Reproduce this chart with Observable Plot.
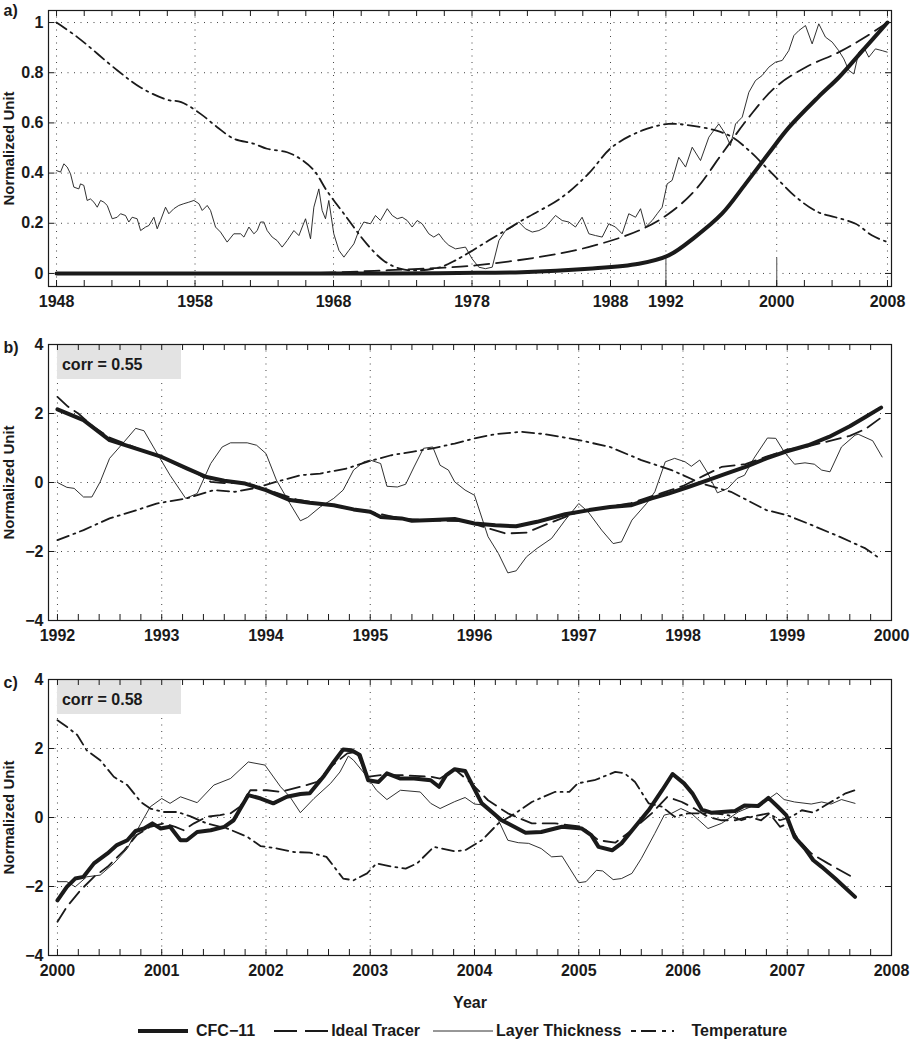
<!DOCTYPE html>
<html>
<head>
<meta charset="utf-8">
<script src="https://cdn.jsdelivr.net/npm/d3@7"></script>
<script src="https://cdn.jsdelivr.net/npm/@observablehq/plot@0.6"></script>
<style>
  body { margin: 0; background: #fff; font-family: "Liberation Sans", Arial, sans-serif; color: #1a1a1a; }
  #chart { width: 910px; }
  #chart svg { display: block; }
  .legend { display: flex; align-items: center; height: 42px; padding-left: 138px; font-weight: bold; font-size: 16px; }
  .legend svg { display: block; }
  .legend span { white-space: nowrap; }
</style>
</head>
<body>
<div id="chart"></div>
<script>
// ---- panel a: 1948-2008, [year, value]
const aCFC = [[1948,0],[1972,0],[1977,0.002],[1981.6,0.005],[1986.4,0.019],[1990.05,0.039],[1992.2,0.072],[1994.1,0.145],[1996.05,0.238],[1997.75,0.357],[1999.4,0.477],[2000.9,0.583],[2003.0,0.703],[2004.5,0.782],[2006.2,0.888],[2008,1.0]];
const aIdeal = [[1948,0],[1964,0],[1968,0.004],[1972,0.013],[1976,0.023],[1978.25,0.032],[1982.8,0.065],[1986.4,0.105],[1990.05,0.171],[1992.2,0.238],[1994.1,0.331],[1996.05,0.477],[1998.0,0.623],[1999.9,0.742],[2002.1,0.822],[2004.5,0.882],[2006.4,0.942],[2008,1.0]];
const aTemp = [[1948,1.0],[1949.5,0.942],[1952.4,0.809],[1954.1,0.74],[1956.0,0.692],[1957.0,0.683],[1958.4,0.636],[1959.6,0.583],[1960.8,0.537],[1962.25,0.517],[1963.2,0.497],[1964.65,0.483],[1965.6,0.457],[1966.6,0.41],[1967.5,0.331],[1968.75,0.238],[1970.4,0.118],[1971.6,0.052],[1972.8,0.019],[1974.0,0.012],[1975.7,0.025],[1976.8,0.052],[1979.2,0.131],[1981.6,0.211],[1984.5,0.304],[1986.4,0.397],[1988.1,0.503],[1990.3,0.57],[1992.2,0.596],[1993.7,0.59],[1995.6,0.57],[1996.8,0.543],[1998.0,0.49],[1999.7,0.397],[2001.4,0.304],[2003.0,0.244],[2004.25,0.224],[2005.7,0.198],[2006.9,0.151],[2008,0.125]];
const aThick = [[1948.0,0.41],[1948.29,0.404],[1948.53,0.437],[1948.77,0.424],[1949.01,0.397],[1949.25,0.344],[1949.61,0.337],[1949.73,0.357],[1949.97,0.351],[1950.21,0.291],[1950.45,0.297],[1950.7,0.284],[1950.94,0.264],[1951.18,0.291],[1951.42,0.284],[1951.66,0.271],[1952.02,0.218],[1952.38,0.224],[1952.62,0.238],[1952.98,0.231],[1953.22,0.205],[1953.46,0.224],[1953.82,0.218],[1954.07,0.171],[1954.43,0.185],[1954.67,0.191],[1955.03,0.224],[1955.27,0.178],[1955.51,0.211],[1955.87,0.264],[1956.11,0.238],[1956.47,0.258],[1956.83,0.271],[1957.19,0.278],[1957.55,0.284],[1957.92,0.291],[1958.28,0.278],[1958.52,0.251],[1958.88,0.271],[1959.12,0.251],[1959.48,0.185],[1959.84,0.165],[1960.32,0.125],[1960.8,0.158],[1961.29,0.158],[1961.53,0.145],[1961.89,0.185],[1962.25,0.158],[1962.49,0.171],[1962.73,0.205],[1962.97,0.205],[1963.21,0.171],[1963.57,0.145],[1963.93,0.131],[1964.29,0.105],[1964.65,0.131],[1965.14,0.171],[1965.5,0.151],[1965.74,0.185],[1965.98,0.218],[1966.34,0.138],[1966.58,0.264],[1966.94,0.337],[1967.18,0.251],[1967.42,0.218],[1967.66,0.291],[1968.02,0.158],[1968.39,0.092],[1968.75,0.065],[1969.11,0.092],[1969.47,0.118],[1969.83,0.171],[1970.19,0.205],[1970.67,0.198],[1971.03,0.231],[1971.39,0.211],[1971.88,0.258],[1972.24,0.231],[1972.6,0.218],[1972.96,0.224],[1973.32,0.211],[1973.68,0.185],[1974.04,0.211],[1974.4,0.198],[1974.88,0.158],[1975.24,0.145],[1975.61,0.158],[1975.97,0.131],[1976.33,0.112],[1976.81,0.098],[1977.53,0.105],[1978.01,0.058],[1978.49,0.025],[1978.97,0.019],[1979.46,0.025],[1979.94,0.131],[1980.42,0.171],[1980.9,0.185],[1981.38,0.205],[1981.86,0.178],[1982.35,0.165],[1982.83,0.171],[1983.31,0.185],[1984.03,0.231],[1984.51,0.211],[1984.99,0.205],[1985.47,0.185],[1985.95,0.224],[1986.44,0.158],[1986.92,0.151],[1987.4,0.145],[1987.88,0.198],[1988.36,0.185],[1988.84,0.158],[1989.32,0.238],[1989.81,0.224],[1990.17,0.258],[1990.53,0.185],[1991.01,0.211],[1991.37,0.238],[1991.73,0.264],[1992.09,0.357],[1992.45,0.371],[1992.93,0.463],[1993.42,0.424],[1993.9,0.503],[1994.5,0.45],[1995.1,0.543],[1995.46,0.57],[1995.82,0.596],[1996.3,0.556],[1996.66,0.51],[1997.03,0.596],[1997.51,0.623],[1997.99,0.722],[1998.47,0.769],[1998.95,0.789],[1999.43,0.822],[1999.91,0.842],[2000.4,0.849],[2000.87,0.888],[2001.24,0.948],[2001.6,0.968],[2002.08,0.988],[2002.56,0.915],[2003.04,0.995],[2003.52,0.942],[2004.01,0.922],[2004.48,0.888],[2004.85,0.855],[2005.21,0.809],[2005.57,0.795],[2005.93,0.882],[2006.29,0.902],[2006.65,0.862],[2007.13,0.895],[2007.62,0.888],[2007.98,0.882]];

// ---- panel b: 1992-2000
const bCFC = [[1992.0,2.12],[1992.25,1.81],[1992.5,1.23],[1992.8,0.94],[1993.0,0.74],[1993.24,0.41],[1993.43,0.16],[1993.6,0.05],[1993.8,-0.03],[1994.0,-0.22],[1994.23,-0.51],[1994.42,-0.59],[1994.65,-0.66],[1994.84,-0.78],[1995.0,-0.85],[1995.1,-1.0],[1995.3,-1.04],[1995.4,-1.11],[1995.6,-1.09],[1995.81,-1.06],[1996.0,-1.19],[1996.2,-1.24],[1996.4,-1.27],[1996.6,-1.14],[1996.87,-0.92],[1997.1,-0.8],[1997.3,-0.71],[1997.5,-0.66],[1997.7,-0.46],[1997.86,-0.32],[1998.05,-0.13],[1998.24,0.07],[1998.4,0.24],[1998.6,0.45],[1998.8,0.7],[1998.98,0.89],[1999.2,1.08],[1999.4,1.32],[1999.6,1.63],[1999.75,1.9],[1999.9,2.17]];
const bIdeal = [[1992.0,2.48],[1992.1,2.2],[1992.2,2.0],[1992.35,1.6],[1992.5,1.3],[1992.8,0.95],[1993.0,0.72],[1993.34,0.26],[1993.47,0.02],[1993.6,-0.02],[1993.75,0.0],[1994.0,-0.2],[1994.3,-0.5],[1994.6,-0.65],[1995.0,-0.85],[1995.3,-1.05],[1995.6,-1.1],[1995.9,-1.12],[1996.1,-1.3],[1996.3,-1.48],[1996.5,-1.45],[1996.7,-1.2],[1997.0,-0.85],[1997.3,-0.7],[1997.5,-0.6],[1997.8,-0.3],[1998.0,-0.1],[1998.2,0.2],[1998.37,0.45],[1998.6,0.53],[1998.8,0.75],[1999.0,0.95],[1999.2,1.05],[1999.4,1.2],[1999.6,1.35],[1999.75,1.55],[1999.9,1.88]];
const bTemp = [[1992.0,-1.67],[1992.25,-1.38],[1992.5,-1.04],[1992.76,-0.8],[1992.95,-0.61],[1993.24,-0.46],[1993.5,-0.22],[1993.7,-0.27],[1993.88,-0.17],[1994.1,0.02],[1994.33,0.21],[1994.52,0.26],[1994.78,0.41],[1994.97,0.6],[1995.2,0.79],[1995.4,0.89],[1995.6,0.99],[1995.81,1.13],[1996.0,1.28],[1996.2,1.4],[1996.45,1.47],[1996.68,1.4],[1997.0,1.23],[1997.3,1.03],[1997.6,0.65],[1997.89,0.36],[1998.18,-0.03],[1998.46,-0.27],[1998.8,-0.8],[1999.0,-0.95],[1999.2,-1.19],[1999.5,-1.57],[1999.75,-1.91],[1999.9,-2.23]];
const bThick = [[1992.0,0.0],[1992.09,-0.14],[1992.16,-0.17],[1992.25,-0.42],[1992.33,-0.42],[1992.41,0.02],[1992.5,0.7],[1992.64,1.18],[1992.75,1.57],[1992.83,1.5],[1992.92,1.03],[1993.08,0.21],[1993.23,-0.46],[1993.34,-0.32],[1993.47,0.55],[1993.58,1.03],[1993.66,1.15],[1993.82,1.15],[1993.91,1.08],[1994.0,0.84],[1994.1,0.07],[1994.23,-0.61],[1994.33,-1.11],[1994.4,-1.01],[1994.52,-0.71],[1994.65,-0.46],[1994.74,-0.22],[1994.84,0.36],[1994.94,0.6],[1995.0,0.65],[1995.1,0.55],[1995.16,-0.11],[1995.26,-0.13],[1995.34,-0.05],[1995.42,0.45],[1995.51,0.99],[1995.6,1.03],[1995.67,0.5],[1995.75,0.36],[1995.81,0.02],[1995.91,-0.22],[1996.0,-0.37],[1996.13,-1.57],[1996.23,-2.06],[1996.32,-2.62],[1996.4,-2.56],[1996.5,-2.15],[1996.6,-1.91],[1996.74,-1.62],[1996.87,-1.09],[1997.0,-0.61],[1997.09,-0.85],[1997.22,-1.38],[1997.33,-1.77],[1997.41,-1.72],[1997.51,-1.09],[1997.65,-0.61],[1997.73,-0.27],[1997.83,0.6],[1997.92,0.7],[1998.02,0.6],[1998.08,0.47],[1998.16,0.65],[1998.24,0.26],[1998.33,-0.3],[1998.43,-0.17],[1998.52,0.12],[1998.59,0.21],[1998.68,0.7],[1998.81,1.29],[1998.89,1.28],[1998.97,0.89],[1999.07,0.53],[1999.17,0.57],[1999.26,0.53],[1999.33,0.36],[1999.41,0.31],[1999.52,1.03],[1999.65,1.37],[1999.68,1.4],[1999.82,1.21],[1999.91,0.74]];

// ---- panel c: 2000-2008
const cCFC = [[2000.0,-2.4],[2000.09,-2.01],[2000.17,-1.77],[2000.25,-1.72],[2000.35,-1.33],[2000.48,-1.04],[2000.57,-0.8],[2000.67,-0.66],[2000.75,-0.39],[2000.83,-0.32],[2000.91,-0.17],[2000.99,-0.32],[2001.08,-0.27],[2001.18,-0.66],[2001.24,-0.66],[2001.34,-0.42],[2001.47,-0.37],[2001.6,-0.27],[2001.69,-0.08],[2001.83,0.65],[2001.95,0.55],[2002.07,0.41],[2002.2,0.6],[2002.33,0.68],[2002.42,0.7],[2002.55,1.18],[2002.65,1.61],[2002.74,1.97],[2002.82,1.95],[2002.9,1.81],[2002.98,1.08],[2003.08,1.03],[2003.16,1.28],[2003.29,1.13],[2003.42,1.13],[2003.58,1.08],[2003.66,0.89],[2003.73,1.23],[2003.81,1.4],[2003.91,1.35],[2004.07,0.41],[2004.26,-0.08],[2004.49,-0.44],[2004.64,-0.42],[2004.84,-0.27],[2005.03,-0.32],[2005.12,-0.51],[2005.19,-0.85],[2005.32,-0.95],[2005.41,-0.75],[2005.54,-0.27],[2005.67,0.21],[2005.8,0.79],[2005.9,1.26],[2006.01,0.99],[2006.09,0.7],[2006.18,0.23],[2006.27,0.14],[2006.37,0.16],[2006.5,0.19],[2006.59,0.35],[2006.72,0.33],[2006.82,0.57],[2006.91,0.31],[2006.99,0.07],[2007.07,-0.56],[2007.17,-0.9],[2007.25,-1.24],[2007.33,-1.43],[2007.46,-1.77],[2007.65,-2.3]];
const cIdeal = [[2000.0,-3.02],[2000.09,-2.59],[2000.22,-2.11],[2000.35,-1.72],[2000.48,-1.43],[2000.64,-0.95],[2000.76,-0.51],[2000.89,-0.27],[2001.02,-0.17],[2001.13,-0.27],[2001.21,-0.37],[2001.31,-0.17],[2001.43,0.02],[2001.56,0.07],[2001.66,0.12],[2001.75,0.31],[2001.85,0.79],[2002.01,0.79],[2002.14,0.74],[2002.33,0.89],[2002.49,1.03],[2002.62,1.47],[2002.78,1.86],[2002.87,1.9],[2002.97,1.18],[2003.1,1.23],[2003.29,1.23],[2003.58,1.18],[2003.67,1.13],[2003.81,1.4],[2003.97,0.99],[2004.13,0.5],[2004.32,0.12],[2004.55,-0.17],[2004.77,-0.17],[2005.03,-0.27],[2005.19,-0.66],[2005.35,-0.73],[2005.51,-0.37],[2005.7,0.12],[2005.85,0.6],[2005.99,0.45],[2006.11,0.26],[2006.24,0.02],[2006.37,-0.08],[2006.5,-0.08],[2006.62,0.02],[2006.75,-0.08],[2006.83,0.12],[2006.93,-0.27],[2007.01,-0.17],[2007.11,-0.66],[2007.23,-1.04],[2007.39,-1.33],[2007.62,-1.72]];
const cTemp = [[2000.0,2.82],[2000.09,2.63],[2000.19,2.39],[2000.28,1.95],[2000.41,1.66],[2000.54,1.18],[2000.67,0.94],[2000.8,0.45],[2000.89,0.26],[2001.02,0.16],[2001.15,0.16],[2001.27,0.04],[2001.43,-0.17],[2001.63,-0.32],[2001.82,-0.56],[2001.95,-0.83],[2002.11,-0.9],[2002.27,-1.0],[2002.42,-1.02],[2002.58,-1.14],[2002.74,-1.77],[2002.84,-1.82],[2002.97,-1.62],[2003.06,-1.33],[2003.22,-1.43],[2003.34,-1.48],[2003.45,-1.33],[2003.61,-0.85],[2003.81,-0.98],[2003.91,-0.95],[2004.07,-0.66],[2004.23,-0.17],[2004.39,0.12],[2004.55,0.45],[2004.77,0.74],[2004.91,0.74],[2004.99,0.99],[2005.15,1.08],[2005.35,1.32],[2005.44,1.28],[2005.54,1.03],[2005.67,0.41],[2005.8,0.31],[2005.92,0.02],[2006.05,0.12],[2006.18,0.12],[2006.3,0.12],[2006.43,0.07],[2006.56,-0.08],[2006.66,0.02],[2006.82,0.12],[2006.93,-0.08],[2007.04,0.02],[2007.14,0.21],[2007.25,0.14],[2007.37,0.36],[2007.56,0.7],[2007.65,0.79]];
const cThick = [[2000.0,-1.86],[2000.09,-1.86],[2000.17,-2.01],[2000.28,-1.72],[2000.41,-1.67],[2000.54,-1.33],[2000.67,-0.9],[2000.8,-0.17],[2000.89,0.31],[2001.0,0.55],[2001.08,0.41],[2001.18,0.6],[2001.34,0.43],[2001.5,0.94],[2001.66,1.13],[2001.83,1.61],[2001.99,1.52],[2002.14,0.89],[2002.23,0.6],[2002.33,0.14],[2002.46,0.55],[2002.62,0.99],[2002.71,1.32],[2002.79,1.78],[2002.84,1.66],[2002.97,1.18],[2003.06,0.79],[2003.16,0.52],[2003.29,0.79],[2003.48,0.74],[2003.58,0.41],[2003.67,0.26],[2003.81,0.46],[2003.91,0.58],[2004.0,0.39],[2004.1,0.36],[2004.23,-0.08],[2004.32,-0.66],[2004.42,-0.73],[2004.52,-0.75],[2004.64,-0.9],[2004.74,-1.14],[2004.84,-1.12],[2005.0,-1.89],[2005.07,-1.86],[2005.17,-1.53],[2005.23,-1.55],[2005.33,-1.8],[2005.41,-1.77],[2005.51,-1.62],[2005.6,-1.19],[2005.73,-0.46],[2005.82,0.07],[2005.89,0.12],[2005.98,0.26],[2006.08,0.12],[2006.24,-0.32],[2006.37,-0.17],[2006.53,0.16],[2006.65,0.31],[2006.78,0.45],[2006.9,0.71],[2006.97,0.52],[2007.07,0.45],[2007.23,0.39],[2007.33,0.45],[2007.42,0.39],[2007.52,0.52],[2007.65,0.41]];

// axis labels
const aYearLabels = [1948, 1958, 1968, 1978, 1988, 1992, 2000, 2008];
const aValueTicks = [0, 0.2, 0.4, 0.6, 0.8, 1];
const bYearLabels = [1992, 1993, 1994, 1995, 1996, 1997, 1998, 1999, 2000];
const cYearLabels = [2000, 2001, 2002, 2003, 2004, 2005, 2006, 2007, 2008];
const bcValueTicks = [-4, -2, 0, 2, 4];
const highlightYears = [1992, 2000];
const seriesNames = ["CFC\u221211", "Ideal Tracer", "Layer Thickness", "Temperature"];

const ink = "#1a1a1a";
const W = 910, ML = 48, MR = 19;
const lineStyle = {
  cfc:   {stroke: ink, strokeWidth: 4},
  ideal: {stroke: ink, strokeWidth: 1.8, strokeDasharray: "15,7"},
  thick: {stroke: ink, strokeWidth: 0.9},
  temp:  {stroke: ink, strokeWidth: 1.8, strokeDasharray: "12,5,2,5"}
};
const minus = d => d < 0 ? "\u2212" + (-d) : String(d);
const toRows = arr => arr.map(([year, value]) => ({year, value}));

function corrMark(label, at) {
  return (index, scales, values, dims) => {
    const x0 = scales.x(at), y0 = dims.marginTop + 1;
    const g = d3.create("svg:g");
    g.append("rect").attr("x", x0).attr("y", y0).attr("width", 124).attr("height", 34).attr("fill", "#e3e3e3");
    g.append("text").attr("x", x0 + 5).attr("y", y0 + 25).attr("text-anchor", "start").attr("fill", ink).text(label);
    return g.node();
  };
}

function panel(o) {
  const H = o.height - o.mt - o.mb, Wp = W - ML - MR;
  const curve = o.smooth ? "catmull-rom" : "linear";
  const ln = (arr, st, c = curve) => Plot.line(toRows(arr), {x: "year", y: "value", curve: c, ...st});
  return Plot.plot({
    width: W, height: o.height,
    marginLeft: ML, marginRight: MR, marginTop: o.mt, marginBottom: o.mb,
    x: {domain: o.xDomain},
    y: {domain: o.yDomain},
    style: {fontFamily: "'Liberation Sans', Arial, sans-serif", fontSize: "16px", fontWeight: "bold", color: ink, background: "white"},
    marks: [
      Plot.ruleY(o.yTicks, {y: d => d, stroke: "#444", strokeWidth: 1, strokeDasharray: "1,5.5"}),
      Plot.ruleX(o.xLabels, {x: d => d, stroke: "#444", strokeWidth: 1, strokeDasharray: "1,5.5"}),
      ...(o.before || []),
      ln(o.temp, lineStyle.temp),
      ln(o.thick, lineStyle.thick, "linear"),
      ln(o.ideal, lineStyle.ideal),
      ln(o.cfc, lineStyle.cfc),
      Plot.frame({stroke: ink, strokeWidth: 1.2}),
      Plot.tickX(o.xMinor, {x: d => d, insetTop: H - 6, stroke: ink}),
      Plot.tickX(o.xMinor, {x: d => d, insetBottom: H - 6, stroke: ink}),
      Plot.tickY(o.yTicks, {y: d => d, insetRight: Wp - 6, stroke: ink}),
      Plot.tickY(o.yTicks, {y: d => d, insetLeft: Wp - 6, stroke: ink}),
      Plot.axisX(o.xLabels, {tickSize: 0, tickPadding: 9, tickFormat: d => String(d), label: null}),
      Plot.axisY(o.yTicks, {tickSize: 0, tickPadding: 5, tickFormat: minus, label: null}),
      Plot.text([o.tag], {frameAnchor: "top-left", dx: -45, dy: o.tagDy, textAnchor: "start", lineAnchor: "middle", fill: ink}),
      Plot.text(["Normalized Unit"], {frameAnchor: "left", dx: -39, rotate: -90, textAnchor: "middle", lineAnchor: "middle", fontSize: 15, fill: ink}),
      ...(o.after || [])
    ]
  });
}

const chart = d3.select("#chart");

chart.append(() => panel({
  tag: "a)", tagDy: 0, height: 310, mt: 10, mb: 24, smooth: true,
  xDomain: [1947.42, 2008.29], yDomain: [-0.052, 1.048],
  xLabels: aYearLabels, xMinor: d3.range(1948, 2009, 2), yTicks: aValueTicks,
  cfc: aCFC, ideal: aIdeal, temp: aTemp, thick: aThick,
  before: [Plot.ruleX(highlightYears, {x: d => d, y1: -0.052, y2: 0.06, stroke: "#777", strokeWidth: 1.3})]
}));

chart.append(() => panel({
  tag: "b)", tagDy: 3, height: 335, mt: 34, mb: 25,
  xDomain: [1991.914, 2000], yDomain: [-4, 4],
  xLabels: bYearLabels, xMinor: d3.range(41).map(i => 1992 + i * 0.2), yTicks: bcValueTicks,
  cfc: bCFC, ideal: bIdeal, temp: bTemp, thick: bThick,
  before: [corrMark("corr = 0.55", bYearLabels[0])]
}));

chart.append(() => panel({
  tag: "c)", tagDy: 3, height: 365, mt: 34, mb: 55,
  xDomain: [1999.914, 2008], yDomain: [-4, 4],
  xLabels: cYearLabels, xMinor: d3.range(41).map(i => 2000 + i * 0.2), yTicks: bcValueTicks,
  cfc: cCFC, ideal: cIdeal, temp: cTemp, thick: cThick,
  before: [corrMark("corr = 0.58", cYearLabels[0])],
  after: [Plot.text(["Year"], {frameAnchor: "bottom", dy: 47, lineAnchor: "middle", fill: ink})]
}));

// legend
const legendItems = [
  {name: seriesNames[0], w: 50, gap: 8, after: 19, st: lineStyle.cfc, dash: null},
  {name: seriesNames[1], w: 54, gap: 3, after: 13, st: lineStyle.ideal, dash: "23,8"},
  {name: seriesNames[2], w: 60, gap: 3, after: 9, st: lineStyle.thick, dash: null},
  {name: seriesNames[3], w: 51, gap: 10, after: 0, st: lineStyle.temp, dash: "5,5,15,6,4,6,2,8"}
];
const legend = chart.append("div").attr("class", "legend");
legendItems.forEach(it => {
  const s = legend.append("svg").attr("width", it.w).attr("height", 10).style("margin-right", it.gap + "px");
  s.append("line").attr("x1", 0).attr("x2", it.w).attr("y1", 5).attr("y2", 5)
    .attr("stroke", ink).attr("stroke-width", it.st.strokeWidth)
    .attr("stroke-dasharray", it.dash);
  legend.append("span").style("margin-right", it.after + "px").text(it.name);
});
</script>
</body>
</html>
